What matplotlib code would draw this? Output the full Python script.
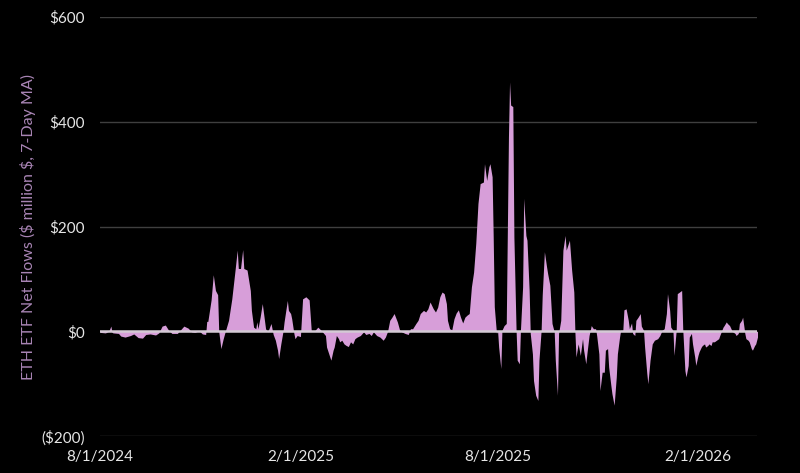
import pandas as pd
import matplotlib
matplotlib.use('Agg')
import matplotlib.pyplot as plt
import matplotlib.dates as mdates
from matplotlib.ticker import FuncFormatter

# Day offsets from 8/1/2024 and the 7-day MA net flow read at that day ($ million)
day_offsets = [
    0, 5, 8, 10, 11, 12, 17, 19, 23, 28, 31, 35, 39, 42, 46, 51, 54, 57, 60, 63,
    66, 71, 74, 77, 81, 84, 87, 91, 94, 97, 98, 99, 102, 104, 106, 108, 109, 111, 113, 115,
    118, 121, 124, 126, 127, 129, 131, 132, 135, 138, 139, 141, 143, 144, 145, 147, 149, 151, 152, 154,
    157, 159, 161, 163, 164, 166, 168, 169, 172, 173, 175, 176, 178, 179, 181, 184, 186, 189, 192, 194,
    197, 200, 203, 207, 208, 211, 212, 214, 215, 217, 219, 220, 222, 224, 226, 228, 230, 232, 234, 236,
    239, 242, 244, 247, 249, 251, 254, 257, 260, 262, 264, 266, 268, 270, 273, 275, 277, 280, 283, 285,
    287, 290, 292, 294, 297, 299, 301, 303, 306, 308, 310, 312, 314, 316, 318, 319, 321, 323, 325, 327,
    329, 331, 333, 335, 337, 339, 341, 343, 345, 347, 349, 352, 353, 355, 357, 358, 360, 361, 362, 364,
    365, 366, 368, 369, 371, 373, 375, 376, 377, 379, 380, 382, 383, 385, 386, 388, 389, 391, 392, 394,
    395, 397, 398, 400, 402, 403, 405, 406, 408, 410, 411, 413, 415, 417, 418, 420, 421, 423, 425, 427,
    428, 431, 433, 435, 436, 437, 439, 441, 443, 444, 446, 447, 449, 451, 453, 455, 456, 458, 459, 461,
    463, 464, 466, 467, 469, 470, 472, 474, 475, 477, 478, 480, 481, 483, 485, 486, 488, 489, 491, 492,
    494, 496, 497, 499, 500, 502, 503, 505, 507, 509, 512, 514, 516, 518, 520, 521, 523, 524, 526, 527,
    529, 530, 532, 534, 535, 537, 538, 540, 541, 543, 544, 546, 547, 549, 550, 552, 553, 555, 556, 558,
    559, 561, 562, 564, 566, 568, 569, 572, 573, 575, 576, 578, 580, 581, 583, 584, 586, 587, 589, 590,
    592, 593, 595, 596, 598, 599, 601, 602, 604,
]
net_flows = [
    -2, -3, 0, 10, -2, -3, -4, -9, -11, -8, -5, -12, -13, -6, -5, -7, -3, 10, 12, 2,
    -4, -4, 3, 10, 6, -1, -2, 1, -5, -6, 19, 19, 60, 108, 78, 70, 0, -33, -15, 0,
    21, 62, 117, 155, 120, 120, 156, 120, 117, 78, 40, 8, 5, 18, 5, 27, 53, 21, 5, -1,
    15, -6, -17, -36, -52, -24, 0, 18, 59, 40, 34, 24, -4, -14, -8, -10, 62, 66, 60, 0,
    1, 8, 2, -8, -30, -49, -55, -36, -30, -8, -14, -20, -17, -24, -27, -29, -20, -24, -14, -11,
    -8, -1, -6, -4, -8, -1, -8, -11, -17, -11, 0, 21, 27, 34, 18, 3, -1, -4, -6, 5,
    5, 15, 21, 34, 40, 37, 43, 56, 43, 37, 46, 66, 75, 72, 53, 21, 5, 3, 24, 35,
    41, 27, 16, 27, 31, 34, 85, 113, 168, 244, 282, 285, 320, 288, 314, 320, 295, 180, 47, -4,
    2, -30, -71, 2, 11, 15, 371, 476, 432, 429, 180, 2, -55, -62, 2, 85, 254, 183, 174, 78,
    -4, -43, -94, -122, -132, -55, 2, 69, 152, 123, 110, 88, 15, -1, -55, -122, -4, 21, 155, 183,
    155, 174, 117, 75, -1, -49, -24, -46, -14, -36, -62, -43, -8, 11, 5, 5, -8, -43, -113, -78,
    -78, -36, -33, -68, -103, -119, -141, -87, -43, -11, 2, 2, 41, 43, 21, 5, 16, -4, -8, 21,
    27, 34, 10, 2, -30, -80, -100, -55, -24, -17, -14, -8, 2, 5, 34, 72, 40, 8, 2, -46,
    2, 72, 75, 78, 5, -75, -87, -65, -11, -4, -24, -49, -65, -46, -39, -30, -27, -24, -30, -27,
    -24, -27, -20, -20, -17, -14, -8, 8, 11, 18, 15, 11, 2, -1, -4, -8, -4, 15, 21, 27,
    -4, -14, -17, -20, -33, -36, -27, -24, -8,
]

start_date = '2024-08-01'
end_date = '2026-03-27'
tick_dates = ['2024-08-01', '2025-02-01', '2025-08-01', '2026-02-01']
y_ticks = [-200, 0, 200, 400, 600]

dates = pd.Timestamp(start_date) + pd.to_timedelta(day_offsets, unit='D')

fig = plt.figure(figsize=(8, 4.73), dpi=100, facecolor='black')
ax = fig.add_axes([0.125, 0.078, 0.821, 0.886])
ax.set_facecolor('black')

ax.fill_between(dates, net_flows, 0, color='#d79ed9', linewidth=0, zorder=3)
ax.axhline(0, color='#d4cad5', linewidth=1.8, zorder=4)

ax.set_ylim(-200, 600)
ax.set_yticks(y_ticks)
ax.yaxis.set_major_formatter(FuncFormatter(
    lambda v, p: f'(${abs(v):.0f})' if v < 0 else f'${v:.0f}'))
ax.grid(axis='y', color='#3f3f3f', linewidth=1, zorder=0)

ax.set_xlim(pd.Timestamp(start_date), pd.Timestamp(end_date))
ticks = pd.to_datetime(tick_dates)
ax.set_xticks(ticks)
ax.set_xticklabels([f'{d.month}/{d.day}/{d.year}' for d in ticks])

for s in ax.spines.values():
    s.set_visible(False)

ax.tick_params(axis='both', length=0, colors='#e6e6e6', labelsize=11)
ax.tick_params(axis='x', pad=10)
ax.tick_params(axis='y', pad=11)
for lab in ax.get_xticklabels() + ax.get_yticklabels():
    lab.set_family('Lato')

ax.set_ylabel('ETH ETF Net Flows (\\$ million \\$, 7-Day MA)', color='#a985b5',
              fontsize=11.5, family='Lato', labelpad=4)

fig.savefig('out.png', dpi=100, facecolor='black')
